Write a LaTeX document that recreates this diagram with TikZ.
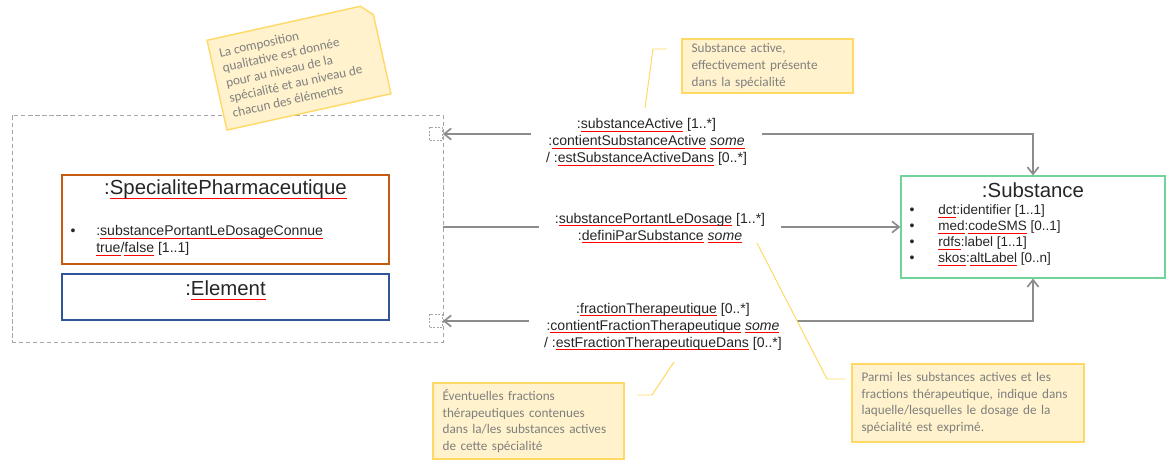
\documentclass[tikz,border=0pt]{standalone}
\usepackage{fontspec}
\setmainfont{Liberation Sans}
\newfontfamily\notefont{Carlito}
\usetikzlibrary{arrows.meta}

\definecolor{txt}{HTML}{262626}
\definecolor{assocgray}{HTML}{8C8C8C}
\definecolor{groupgray}{HTML}{A6A6A6}
\definecolor{specorange}{HTML}{C55A11}
\definecolor{elemblue}{HTML}{2F5597}
\definecolor{subgreen}{HTML}{6FD39A}
\definecolor{notefill}{HTML}{FFF2CC}
\definecolor{noteline}{HTML}{FFD966}
\definecolor{notetext}{HTML}{7F7F7F}

% red squiggle of the spell checker
\newsavebox\rubox
\newcommand\ru[1]{\leavevmode\sbox\rubox{#1}\rlap{\textcolor{red}{\rule[-0.42ex]{\wd\rubox}{0.6pt}}}\usebox\rubox}

\begin{document}
\begin{tikzpicture}
      [x=0.025cm,y=-0.025cm,%%%%%%%%%%%%%%%%%%%%%%%%%%%%%%
      grp/.style={draw=groupgray,dash pattern=on 3pt off 2pt,line width=0.6pt,minimum width=10.775cm,minimum height=5.675cm},
      port/.style={draw=groupgray,dash pattern=on 1.5pt off 1pt,line width=0.5pt,fill=white,minimum size=0.325cm,inner sep=0pt},
      cls/.style={draw,line width=1.2pt,minimum width=8.175cm},
      ttl/.style={text=txt,font=\fontsize{14.5}{17}\selectfont,inner sep=0pt},
      attr/.style={text=txt,font=\fontsize{10}{12.1}\selectfont,anchor=west,align=left,inner sep=0pt},
      assoc/.style={draw=assocgray,line width=1.2pt,>={Straight Barb[length=5pt,width=8pt]}},
      lbl/.style={fill=white,text=txt,align=center,font=\fontsize{10}{12.1}\selectfont,inner xsep=11pt,inner ysep=1pt},
      note/.style={draw=noteline,fill=notefill,line width=1pt,text=notetext,align=left,font=\notefont\fontsize{9.4}{11.8}\selectfont,inner xsep=0.24cm},
      callout/.style={draw=noteline,line width=0.7pt},
      ]%%%%%%%%%%%%%%%%%%%%%%%%%%%%%%
      \useasboundingbox (0,0) rectangle (1166,460);

      % group of specialite and element
      \node[grp] (grp) at (227.5,228.5) {};
      \node[port] (portA) at (436,134) {};
      \node[port] (portB) at (436,321) {};

      \node[cls,draw=specorange,minimum height=2.225cm] (spec) at (225.5,219.5) {};
      \node[ttl] (specT) at (225.5,189) {:\ru{SpecialitePharmaceutique}};
      \node[attr,anchor=center] (specB) at (73,232) {•};
      \node[attr] (specA) at (96,240.5) {:\ru{substancePortantLeDosageConnue}\\\ru{true}/\ru{false} [1..1]};

      \node[cls,draw=elemblue,minimum height=1.15cm] (elem) at (225.5,297) {};
      \node[ttl] (elemT) at (225.5,290) {:\ru{Element}};

      % substance
      \node[draw=subgreen,line width=0.8pt,minimum width=6.6cm,minimum height=2.55cm] (sub) at (1033,227) {};
      \node[ttl] (subT) at (1033,190) {:Substance};
      \node[attr,anchor=center] (subB1) at (912,211) {•};
      \node[attr,anchor=center] (subB2) at (912,227) {•};
      \node[attr,anchor=center] (subB3) at (912,243) {•};
      \node[attr,anchor=center] (subB4) at (912,259) {•};
      \node[attr,font=\fontsize{9.6}{11.4}\selectfont] (subA1) at (938,211) {\ru{dct}:identifier [1..1]};
      \node[attr,font=\fontsize{9.6}{11.4}\selectfont] (subA2) at (938,227) {\ru{med}:\ru{codeSMS} [0..1]};
      \node[attr,font=\fontsize{9.6}{11.4}\selectfont] (subA3) at (938,243) {\ru{rdfs}:label [1..1]};
      \node[attr,font=\fontsize{9.6}{11.4}\selectfont] (subA4) at (938,259) {\ru{skos}:\ru{altLabel} [0..n]};

      % associations
      \draw[assoc,<->] (portA.east) -| (sub.north);
      \draw[assoc,->] (sub.west -| grp.east) -- (sub.west);
      \draw[assoc,<->] (portB.east) -| (sub.south);

      \node[lbl] (saL) at (646.5,142) {:\ru{substanceActive} [1..*]\\:\ru{contientSubstanceActive} \textit{\ru{some}}\\/ :\ru{estSubstanceActiveDans} [0..*]};
      \node[lbl] (spL) at (660,228) {:\ru{substancePortantLeDosage} [1..*]\\:\ru{definiParSubstance} \textit{\ru{some}}};
      \node[lbl] (ftL) at (663,326.5) {:\ru{fractionTherapeutique} [0..*]\\:\ru{contientFractionTherapeutique} \textit{\ru{some}}\\/ :\ru{estFractionTherapeutiqueDans} [0..*]};

      % notes
      \begin{scope}[shift={(299,67)},rotate=12.5]
        \path[note] (-84,-46) -- (73,-46) -- (84,-35) -- (84,46) -- (-84,46) -- cycle;
        \node[transform shape,text=notetext,align=left,anchor=north west,inner sep=0pt,font=\notefont\fontsize{9.4}{11}\selectfont] (noteQC) at (-75,-36)
              {La composition\\qualitative est donnée\\pour au niveau de la\\spécialité et au niveau de\\chacun des éléments};
      \end{scope}

      \node[note,minimum width=4.275cm,minimum height=1.35cm,text width=3.795cm] (noteSA) at (767.5,66) {Substance active,\\effectivement présente\\dans la spécialité};
      \coordinate (saA) at (667,49);
      \coordinate (saB) at (645,108);
      \draw[callout] (saA) -- ++(-14,0) -- (saB);

      \node[note,minimum width=4.775cm,minimum height=1.9cm,text width=4.295cm] (noteFT) at (528.5,421) {Éventuelles fractions\\thérapeutiques contenues\\dans la/les substances actives\\de cette spécialité};
      \coordinate (ftA) at (637,395);
      \coordinate (ftB) at (674,362);
      \draw[callout] (ftA) -- ++(15,0) -- (ftB);

      \node[note,minimum width=5.8cm,minimum height=1.95cm,text width=5.32cm] (noteDS) at (968,403) {Parmi les substances actives et les\\fractions thérapeutique, indique dans\\laquelle/lesquelles le dosage de la\\spécialité est exprimé.};
      \coordinate (dsA) at (845,379);
      \coordinate (dsB) at (757,243);
      \draw[callout] (dsA) -- ++(-18,0) -- (dsB);
    \end{tikzpicture}
\end{document}
